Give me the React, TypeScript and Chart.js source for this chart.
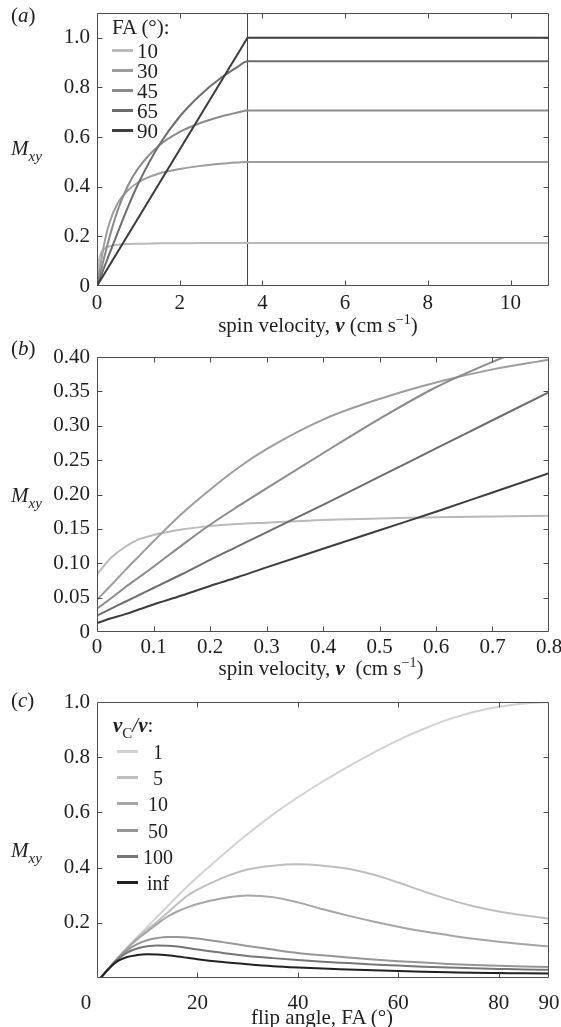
import React, { useEffect, useRef } from 'react';
import { Chart, registerables } from 'chart.js';

Chart.register(...registerables);

const FONT = '"Liberation Serif", "Times New Roman", serif';
const TEXT = '#1e1e1e';

// ---------- Panel (a): Mxy vs spin velocity (full range) ----------
const A_LABELS = ['10', '30', '45', '65', '90'];
const A_COLORS = ['#bababa', '#9d9d9d', '#8b8b8b', '#6d6d6d', '#3d3d3d'];
const A_V = [0, 0.025, 0.05, 0.1, 0.2, 0.3, 0.5, 0.75, 1, 1.5, 2, 2.5, 3, 3.4, 3.64, 10.93];
const A_FA10 = [0, 0.07, 0.106, 0.134, 0.153, 0.16, 0.166, 0.169, 0.17, 0.172, 0.1725, 0.173, 0.1733, 0.1735, 0.1736, 0.1736];
const A_FA30 = [0, 0.026, 0.051, 0.102, 0.19, 0.254, 0.333, 0.386, 0.418, 0.453, 0.471, 0.484, 0.4925, 0.4975, 0.5, 0.5];
const A_FA45 = [0, 0.017, 0.033, 0.066, 0.132, 0.196, 0.305, 0.405, 0.475, 0.566, 0.621, 0.657, 0.683, 0.699, 0.707, 0.707];
const A_FA65 = [0, 0.011, 0.022, 0.043, 0.086, 0.129, 0.215, 0.319, 0.413, 0.567, 0.683, 0.77, 0.839, 0.883, 0.906, 0.906];
const A_FA90_V = [0, 3.64, 10.93];
const A_FA90 = [0, 1.0, 1.0];
const A_VC_X = [3.64, 3.64];
const A_VC_Y = [0, 1.1];
const A_XTICKS = [0, 2, 4, 6, 8, 10];
const A_YTICKS = [0, 0.2, 0.4, 0.6, 0.8, 1.0];

// ---------- Panel (b): Mxy vs spin velocity (low range) ----------
const B_V = [0, 0.025, 0.05, 0.075, 0.1, 0.15, 0.2, 0.25, 0.3, 0.4, 0.5, 0.6, 0.7, 0.8];
const B_FA10 = [0.084, 0.108, 0.124, 0.135, 0.141, 0.149, 0.154, 0.157, 0.159, 0.163, 0.165, 0.167, 0.168, 0.169];
const B_FA30 = [0.047, 0.068, 0.09, 0.111, 0.132, 0.172, 0.207, 0.239, 0.266, 0.309, 0.339, 0.363, 0.382, 0.396];
const B_FA45 = [0.034, 0.049, 0.065, 0.08, 0.095, 0.126, 0.156, 0.183, 0.209, 0.26, 0.31, 0.356, 0.393, 0.425];
const B_FA65 = [0.024, 0.034, 0.044, 0.054, 0.064, 0.084, 0.105, 0.125, 0.145, 0.185, 0.226, 0.267, 0.308, 0.349];
const B_FA90 = [0.013, 0.02, 0.026, 0.033, 0.04, 0.053, 0.067, 0.08, 0.094, 0.121, 0.148, 0.175, 0.203, 0.231];
const B_XTICKS = [0, 0.1, 0.2, 0.3, 0.4, 0.5, 0.6, 0.7, 0.8];
const B_YTICKS = [0, 0.05, 0.1, 0.15, 0.2, 0.25, 0.3, 0.35, 0.4];

// ---------- Panel (c): Mxy vs flip angle ----------
const C_LABELS = ['1', '5', '10', '50', '100', 'inf'];
const C_COLORS = ['#d2d2d2', '#bebebe', '#a6a6a6', '#969696', '#767676', '#202020'];
const C_FA = [0.7, 2, 4, 6, 8, 10, 12, 14, 16, 18, 20, 25, 30, 35, 40, 45, 50, 55, 60, 65, 70, 75, 80, 85, 90];
const C_R1 = [0, 0.027, 0.07, 0.11, 0.148, 0.185, 0.222, 0.259, 0.296, 0.332, 0.366, 0.446, 0.522, 0.592, 0.655, 0.712, 0.766, 0.816, 0.862, 0.902, 0.937, 0.964, 0.983, 0.995, 1.0];
const C_R5 = [0, 0.027, 0.07, 0.109, 0.145, 0.175, 0.204, 0.236, 0.268, 0.298, 0.32, 0.363, 0.393, 0.407, 0.412, 0.407, 0.396, 0.375, 0.346, 0.314, 0.285, 0.26, 0.241, 0.227, 0.215];
const C_R10 = [0, 0.027, 0.069, 0.107, 0.14, 0.168, 0.196, 0.222, 0.241, 0.256, 0.268, 0.289, 0.299, 0.293, 0.274, 0.249, 0.226, 0.205, 0.186, 0.169, 0.155, 0.142, 0.131, 0.122, 0.114];
const C_R50 = [0, 0.027, 0.068, 0.1, 0.123, 0.137, 0.145, 0.149, 0.149, 0.147, 0.143, 0.13, 0.116, 0.103, 0.091, 0.082, 0.074, 0.067, 0.061, 0.056, 0.051, 0.047, 0.044, 0.042, 0.04];
const C_R100 = [0, 0.027, 0.066, 0.092, 0.107, 0.115, 0.118, 0.117, 0.114, 0.109, 0.103, 0.091, 0.08, 0.072, 0.065, 0.059, 0.054, 0.049, 0.045, 0.041, 0.038, 0.035, 0.033, 0.031, 0.03];
const C_RINF = [0, 0.027, 0.06, 0.076, 0.083, 0.086, 0.085, 0.082, 0.078, 0.073, 0.068, 0.058, 0.05, 0.043, 0.038, 0.034, 0.031, 0.028, 0.025, 0.023, 0.021, 0.019, 0.018, 0.017, 0.016];
const C_XTICKS = [0, 20, 40, 60, 80, 90];
const C_YTICKS = [0.2, 0.4, 0.6, 0.8, 1.0];

const pts = (xs: number[], ys: number[]) => xs.map((x, i) => ({ x, y: ys[i] }));

const curve = (xs: number[], ys: number[], color: string, smooth = true, width = 2) => ({
  data: pts(xs, ys),
  borderColor: color,
  backgroundColor: color,
  borderWidth: width,
  pointRadius: 0,
  fill: false,
  tension: 0,
  cubicInterpolationMode: smooth ? 'monotone' : 'default',
});

const framePlugin = {
  id: 'frameTicks',
  afterDatasetsDraw(chart: any) {
    const { ctx, chartArea: a, scales } = chart;
    const L = Math.round(a.left) + 0.5;
    const R = Math.round(a.right) - 0.5;
    const T = Math.round(a.top) + 0.5;
    const B = Math.round(a.bottom) - 0.5;
    ctx.save();
    ctx.strokeStyle = '#4d4d4d';
    ctx.lineWidth = 1;
    ctx.beginPath();
    ctx.rect(L, T, R - L, B - T);
    const len = 5;
    scales.x.ticks.forEach((t: any) => {
      const px = Math.round(scales.x.getPixelForValue(t.value)) + 0.5;
      if (px <= L + 2 || px >= R - 2) return;
      ctx.moveTo(px, B); ctx.lineTo(px, B - len);
      ctx.moveTo(px, T); ctx.lineTo(px, T + len);
    });
    scales.y.ticks.forEach((t: any) => {
      const py = Math.round(scales.y.getPixelForValue(t.value)) + 0.5;
      if (py <= T + 2 || py >= B - 2) return;
      ctx.moveTo(L, py); ctx.lineTo(L + len, py);
      ctx.moveTo(R, py); ctx.lineTo(R - len, py);
    });
    ctx.stroke();
    ctx.restore();
  },
};

type Cfg = {
  datasets: any[];
  height: number;
  areaTop: number;
  areaBottom: number;
  xPad: number;
  xMin: number; xMax: number; yMin: number; yMax: number;
  xTicks: number[]; yTicks: number[];
  xFmt: (v: number) => string; yFmt: (v: number) => string;
};

function buildConfig(c: Cfg): any {
  const tickFont = { family: FONT, size: 21 };
  return {
    type: 'line',
    data: { datasets: c.datasets },
    options: {
      animation: false,
      responsive: false,
      devicePixelRatio: 1,
      layout: { padding: { top: c.areaTop, left: 0, right: 12, bottom: 0 } },
      plugins: { legend: { display: false }, tooltip: { enabled: false } },
      scales: {
        x: {
          type: 'linear', min: c.xMin, max: c.xMax,
          afterBuildTicks: (s: any) => { s.ticks = c.xTicks.map((v) => ({ value: v })); },
          afterFit: (s: any) => { s.height = c.height - c.areaBottom; s.paddingLeft = 0; s.paddingRight = 0; },
          grid: { display: false, drawTicks: false },
          border: { display: false },
          ticks: { callback: (v: any) => c.xFmt(Number(v)), autoSkip: false, maxRotation: 0, padding: c.xPad, color: TEXT, font: tickFont },
        },
        y: {
          type: 'linear', min: c.yMin, max: c.yMax,
          afterBuildTicks: (s: any) => { s.ticks = c.yTicks.map((v) => ({ value: v })); },
          afterFit: (s: any) => { s.width = 97; s.paddingTop = 0; s.paddingBottom = 0; },
          grid: { display: false, drawTicks: false },
          border: { display: false },
          ticks: { callback: (v: any) => c.yFmt(Number(v)), autoSkip: false, padding: 7, color: TEXT, font: tickFont },
        },
      },
    },
    plugins: [framePlugin],
  };
}

function ChartCanvas({ config, top, height }: { config: any; top: number; height: number }) {
  const ref = useRef<HTMLCanvasElement | null>(null);
  useEffect(() => {
    if (!ref.current) return;
    const chart = new Chart(ref.current, config);
    return () => chart.destroy();
  }, []);
  return (
    <canvas
      ref={ref}
      width={561}
      height={height}
      style={{ position: 'absolute', left: 0, top, width: 561, height }}
    />
  );
}

const txt: React.CSSProperties = {
  position: 'absolute',
  fontFamily: FONT,
  fontSize: 21,
  color: TEXT,
  lineHeight: 1,
  whiteSpace: 'nowrap',
};

function Label({ x, y, center, children, size }: { x: number; y: number; center?: boolean; children: any; size?: number }) {
  return (
    <div style={{ ...txt, left: x, top: y, fontSize: size || 21, transform: center ? 'translate(-50%, -50%)' : 'translateY(-50%)' }}>
      {children}
    </div>
  );
}

const Mxy = () => (
  <span>
    <i>M</i>
    <i style={{ fontSize: 15, position: 'relative', top: 6 }}>xy</i>
  </span>
);

const SupM1 = () => <span style={{ fontSize: 14, position: 'relative', top: -8 }}>−1</span>;
const BV = () => <b><i>v</i></b>;

const fmt1 = (v: number) => (v === 0 ? '0' : v.toFixed(1));
const fmt2 = (v: number) => (v === 0 ? '0' : v.toFixed(2));
const fmtInt = (v: number) => String(Math.round(v));
const fmtIntNoZero = (v: number) => (v === 0 ? '' : String(Math.round(v)));

export default function App() {
  const aDatasets = [
    curve(A_FA90_V, A_FA90, A_COLORS[4], false),
    curve(A_V, A_FA65, A_COLORS[3]),
    curve(A_V, A_FA45, A_COLORS[2]),
    curve(A_V, A_FA30, A_COLORS[1]),
    curve(A_V, A_FA10, A_COLORS[0]),
    curve(A_VC_X, A_VC_Y, '#454545', false, 1),
  ];
  const bDatasets = [
    curve(B_V, B_FA90, A_COLORS[4]),
    curve(B_V, B_FA65, A_COLORS[3]),
    curve(B_V, B_FA45, A_COLORS[2]),
    curve(B_V, B_FA30, A_COLORS[1]),
    curve(B_V, B_FA10, A_COLORS[0]),
  ];
  const cSeries = [C_R1, C_R5, C_R10, C_R50, C_R100, C_RINF];
  const cDatasets = cSeries.map((s, i) => curve(C_FA, s, C_COLORS[i])).reverse();

  const cfgA = buildConfig({
    datasets: aDatasets, height: 340, areaTop: 13, areaBottom: 286, xPad: 5,
    xMin: 0, xMax: 10.93, yMin: 0, yMax: 1.1, xTicks: A_XTICKS, yTicks: A_YTICKS, xFmt: fmtInt, yFmt: fmt1,
  });
  const cfgB = buildConfig({
    datasets: bDatasets, height: 345, areaTop: 22, areaBottom: 297, xPad: 3,
    xMin: 0, xMax: 0.8, yMin: 0, yMax: 0.4, xTicks: B_XTICKS, yTicks: B_YTICKS, xFmt: fmt1, yFmt: fmt2,
  });
  const cfgC = buildConfig({
    datasets: cDatasets, height: 347, areaTop: 22, areaBottom: 298, xPad: 13,
    xMin: 0, xMax: 90, yMin: 0, yMax: 1.0, xTicks: C_XTICKS, yTicks: C_YTICKS, xFmt: fmtIntNoZero, yFmt: fmt1,
  });

  return (
    <div style={{ position: 'absolute', left: 0, top: 0, width: 561, height: 1027, background: '#fff', overflow: 'hidden' }}>
      <ChartCanvas config={cfgA} top={0} height={340} />
      <ChartCanvas config={cfgB} top={335} height={345} />
      <ChartCanvas config={cfgC} top={680} height={347} />

      {/* Panel (a) texts */}
      <Label x={11} y={15}>(<i>a</i>)</Label>
      <Label x={11} y={148}><Mxy /></Label>
      <Label x={318} y={325} center>spin velocity, <BV /> (cm s<SupM1 />)</Label>
      <Label x={112} y={27}>FA (°):</Label>
      {A_LABELS.map((lab, i) => (
        <div key={lab}>
          <div style={{ position: 'absolute', left: 112, top: 50 + i * 20 - 1, width: 21, height: 3, background: A_COLORS[i] }} />
          <Label x={137} y={51 + i * 20}>{lab}</Label>
        </div>
      ))}

      {/* Panel (b) texts */}
      <Label x={11} y={348}>(<i>b</i>)</Label>
      <Label x={11} y={495}><Mxy /></Label>
      <Label x={321} y={668} center>spin velocity, <BV />{'\u00a0'} (cm s<SupM1 />)</Label>

      {/* Panel (c) texts */}
      <Label x={11} y={700}>(<i>c</i>)</Label>
      <Label x={11} y={850}><Mxy /></Label>
      <Label x={86} y={1002} center>0</Label>
      <Label x={322} y={1017} center>flip angle, FA (°)</Label>
      <Label x={113} y={725}>
        <BV /><span style={{ fontSize: 15, position: 'relative', top: 6 }}>C</span><i>/</i><BV />:
      </Label>
      {C_LABELS.map((lab, i) => (
        <div key={lab}>
          <div style={{ position: 'absolute', left: 117, top: 751 + i * 26.2 - 1, width: 21, height: 3, background: C_COLORS[i] }} />
          <Label x={158} y={752 + i * 26.2} center size={20}>{lab}</Label>
        </div>
      ))}
    </div>
  );
}
